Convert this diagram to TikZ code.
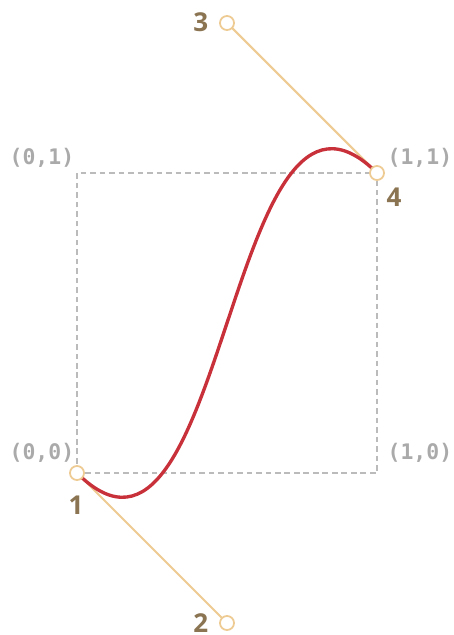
\documentclass[tikz,border=0pt]{standalone}
\usepackage{fontspec}
\setmainfont{Open Sans}
\setmonofont{DejaVu Sans Mono}
\definecolor{curvered}{HTML}{C8303A}
\definecolor{handle}{HTML}{EDCB93}
\definecolor{numbrown}{HTML}{8A7452}
\definecolor{cornergray}{HTML}{AAAAAA}
\tikzset{
  ctrl/.style={circle, draw=handle, fill=white, line width=0.5pt, minimum size=4pt, inner sep=0pt},
  num/.style={text=numbrown, font=\fontsize{7.4}{7.4}\selectfont\bfseries},
  corner/.style={text=cornergray, font=\fontsize{6.1}{6.1}\ttfamily\bfseries}
}
\begin{document}
\begin{tikzpicture}[x=3cm, y=3cm]
                \useasboundingbox (-0.2567,-0.54) rectangle (1.2533,1.5767);
                \draw[cornergray!80, line width=0.3pt, dash pattern=on 1.6pt off 1.1pt] (0,0) rectangle (1,1);

                \coordinate (p1) at (0,0);
                \coordinate (p2) at (0.5,-0.5);
                \coordinate (p3) at (0.5,1.5);
                \coordinate (p4) at (1,1);

                \draw[handle, line width=0.6pt] (p1) -- (p2);
                \draw[handle, line width=0.6pt] (p4) -- (p3);
                \draw[curvered, line width=0.95pt] (p1) .. controls (p2) and (p3) .. (p4);

                \foreach \i in {1,...,4}
                    \node[ctrl] (c\i) at (p\i) {};

                \node[num] (n1) at (-0.003,-0.107) {1};
                \node[num] (n2) at (0.413,-0.5) {2};
                \node[num] (n3) at (0.413,1.503) {3};
                \node[num] (n4) at (1.057,0.92) {4};

                \node[corner] (k01) at (-0.117,1.05) {(0,1)};
                \node[corner] (k11) at (1.143,1.05) {(1,1)};
                \node[corner] (k00) at (-0.117,0.067) {(0,0)};
                \node[corner] (k10) at (1.143,0.067) {(1,0)};
            \end{tikzpicture}
\end{document}
